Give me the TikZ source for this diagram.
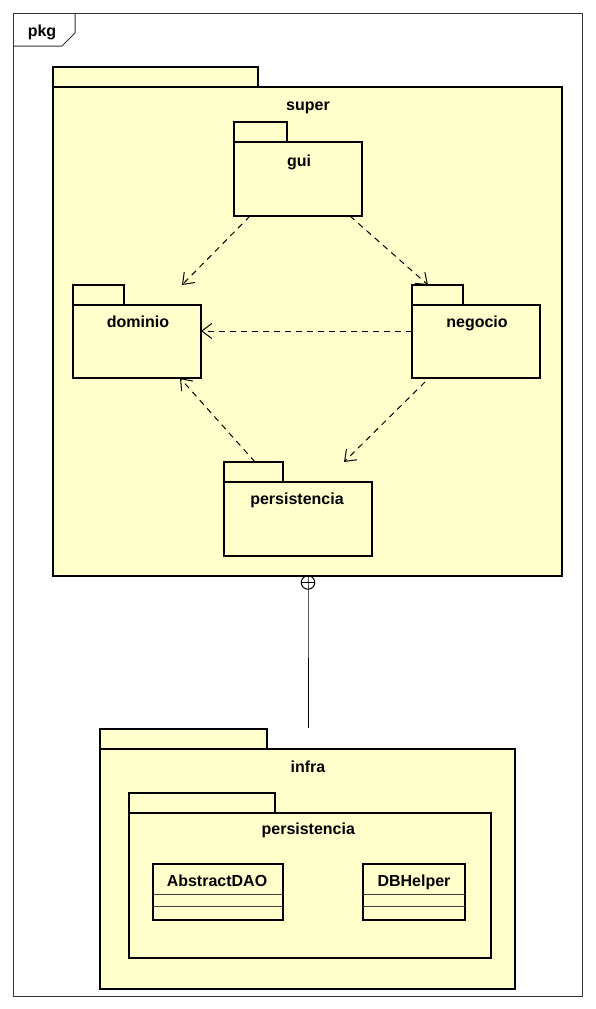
\documentclass[tikz,border=0pt]{standalone}
\usepackage{fontspec}
\setmainfont{Liberation Sans}
\usetikzlibrary{arrows.meta,calc}
\definecolor{pkgfill}{HTML}{FFFFCC}
\tikzset{
  pkgbox/.style={draw=black, fill=pkgfill, line width=2.6pt, rectangle, inner sep=0pt, outer sep=0pt, anchor=north west},
  lbl/.style={font=\bfseries\fontsize{16}{19}\selectfont, anchor=base, inner sep=0pt},
  dep/.style={draw=black, line width=1pt, dash pattern=on 6pt off 5pt,
    -{Straight Barb[length=10pt,width=15pt,line width=1pt]}},
  compline/.style={draw=black!75, line width=0.8pt},
  frame/.style={draw=black!80, line width=1pt}
}
\begin{document}
\begin{tikzpicture}[x=1pt,y=-1pt]
\useasboundingbox (0,0) rectangle (596,1009);
\fill[white] (0,0) rectangle (596,1009);
% outer frame
\draw[frame] (13,13) rectangle (582,996);
\draw[frame] (13,46) -- (62,46) -- (75,33) -- (75,13);
\node[lbl] (pkglbl) at (42,36) {pkg};
% super
\node[pkgbox, minimum width=205pt, minimum height=20pt] (supertab) at (53,67) {};
\node[pkgbox, minimum width=509pt, minimum height=489pt] (super) at (53,87) {};
\node[lbl] (superlbl) at (308,110.7) {super};
% gui
\node[pkgbox, minimum width=53pt, minimum height=20pt] (guitab) at (234,122) {};
\node[pkgbox, minimum width=128pt, minimum height=74pt] (gui) at (234,142) {};
\node[lbl] (guilbl) at (299,166) {gui};
% dominio
\node[pkgbox, minimum width=51pt, minimum height=20pt] (domtab) at (73,285) {};
\node[pkgbox, minimum width=128pt, minimum height=73pt] (dominio) at (73,305) {};
\node[lbl] (domlbl) at (138,327.3) {dominio};
% negocio
\node[pkgbox, minimum width=51pt, minimum height=20pt] (negtab) at (412,285) {};
\node[pkgbox, minimum width=128pt, minimum height=73pt] (negocio) at (412,305) {};
\node[lbl] (neglbl) at (477,327.3) {negocio};
% persistencia
\node[pkgbox, minimum width=59pt, minimum height=20pt] (pertab) at (224,462) {};
\node[pkgbox, minimum width=148pt, minimum height=74pt] (pers) at (224,482) {};
\node[lbl] (perlbl) at (297,504.3) {persistencia};
% dependencies
\draw[dep] ([xshift=-48pt]gui.south) -- ([xshift=45pt,yshift=20pt]dominio.north);
\draw[dep] ([xshift=52pt]gui.south) -- ([xshift=-48pt,yshift=20pt]negocio.north);
\draw[dep] ([yshift=10.5pt]negocio.west) -- ([yshift=10.5pt]dominio.east);
\draw[dep] ([xshift=-51pt,yshift=-4pt]negocio.south) -- ([xshift=46pt,yshift=20pt]pers.north);
\draw[dep] ([xshift=-43pt,yshift=20pt]pers.north) -- ([xshift=43pt]dominio.south);
% infra
\node[pkgbox, minimum width=167pt, minimum height=20pt] (infratab) at (100,729) {};
\node[pkgbox, minimum width=415pt, minimum height=240pt] (infra) at (100,749) {};
\node[lbl] (infralbl) at (308,772) {infra};
\node[pkgbox, minimum width=146pt, minimum height=20pt] (ipertab) at (129,793) {};
\node[pkgbox, minimum width=362pt, minimum height=145pt] (ipers) at (129,813) {};
\node[lbl] (iperlbl) at (308.3,834.3) {persistencia};
% classes
\node[pkgbox, minimum width=130pt, minimum height=56pt] (dao) at (153,864) {};
\node[lbl] (daolbl) at (217,886.7) {AbstractDAO};
\draw[compline] ([yshift=-30pt]dao.north west) -- ([yshift=-30pt]dao.north east);
\draw[compline] ([yshift=-42pt]dao.north west) -- ([yshift=-42pt]dao.north east);
\node[pkgbox, minimum width=102pt, minimum height=56pt] (dbh) at (363,864) {};
\node[lbl] (dbhlbl) at (414,886.7) {DBHelper};
\draw[compline] ([yshift=-30pt]dbh.north west) -- ([yshift=-30pt]dbh.north east);
\draw[compline] ([yshift=-42pt]dbh.north west) -- ([yshift=-42pt]dbh.north east);
% containment
\node[draw=black, line width=1pt, circle, minimum size=13.5pt, inner sep=0pt] (cont) at (308,582.5) {};
\draw[line width=1pt] (cont.west) -- (cont.east);
\draw[line width=1pt] (cont.north) -- (cont.south) -- ([yshift=1pt]cont.south |- infratab.north);
\end{tikzpicture}
\end{document}
